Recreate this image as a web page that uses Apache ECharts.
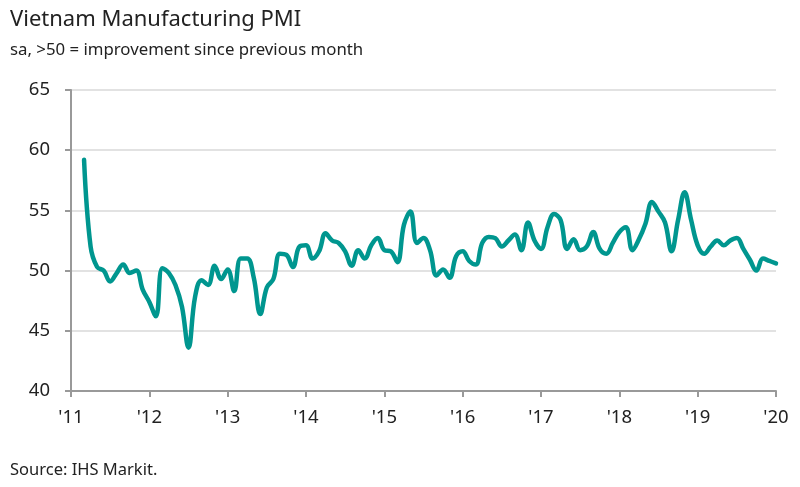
<!DOCTYPE html>
<html>
<head>
<meta charset="utf-8">
<script src="https://cdn.jsdelivr.net/npm/echarts@6/dist/echarts.min.js"></script>
<style>
html,body{margin:0;padding:0;background:#fff;}
#chart{width:800px;height:487px;}
</style>
</head>
<body>
<div id="chart"></div>
<script>
// Month index 0 = Jan 2011; first observation is Mar 2011 (index 2)
var startIndex = 2;
var pmi = [
  59.2, 52.0, 50.3, 50.0, 49.1, 49.8, 50.5, 49.8, 50.0, 48.4,      // Mar-Dec 2011
  47.4, 46.2, 50.2, 49.8, 48.8, 47.0, 43.6, 47.8, 49.2, 48.8, 50.4, 49.3, // 2012
  50.1, 48.3, 51.0, 51.0, 49.4, 46.4, 48.6, 49.3, 51.4, 51.3, 50.3, 52.0, // 2013
  52.1, 51.0, 51.6, 53.1, 52.5, 52.3, 51.6, 50.4, 51.7, 51.0, 52.1, 52.7, // 2014
  51.7, 51.6, 50.7, 53.8, 54.9, 52.3, 52.7, 51.7, 49.6, 50.1, 49.4, 51.2, // 2015
  51.6, 50.8, 50.5, 52.3, 52.8, 52.7, 52.0, 52.5, 53.0, 51.7, 54.0, 52.5, // 2016
  51.8, 53.6, 54.7, 54.2, 51.8, 52.6, 51.7, 52.0, 53.2, 51.8, 51.4, 52.3, // 2017
  53.2, 53.6, 51.7, 52.6, 53.9, 55.7, 54.9, 54.0, 51.6, 54.2, 56.5, 54.2, // 2018
  52.1, 51.4, 52.0, 52.5, 52.1, 52.5, 52.7, 51.8, 50.9, 50.0, 51.0, 50.8, // 2019
  50.6                                                                    // Jan 2020
];
var tickLabels = ["'11", "'12", "'13", "'14", "'15", "'16", "'17", "'18", "'19", "'20"];
var yTicks = [40, 45, 50, 55, 60, 65];
var titleText = 'Vietnam Manufacturing PMI';
var subtitleText = 'sa, >50 = improvement since previous month';
var sourceText = 'Source: IHS Markit.';

var seriesData = pmi.map(function (v, k) { return [k + startIndex, v]; });
var font = 'Noto Sans';

var chart = echarts.init(document.getElementById('chart'), null, {renderer: 'canvas'});
chart.setOption({
  animation: false,
  backgroundColor: '#ffffff',
  textStyle: {fontFamily: font},
  title: [
    {text: titleText, left: 10, top: 9, padding: 0, textStyle: {fontFamily: font, fontSize: 22, fontWeight: 'normal', color: '#222'}},
    {text: subtitleText, left: 10, top: 42, padding: 0, textStyle: {fontFamily: font, fontSize: 16.8, fontWeight: 'normal', color: '#222'}},
    {text: sourceText, left: 10, top: 462, padding: 0, textStyle: {fontFamily: font, fontSize: 16.5, fontWeight: 'normal', color: '#222'}}
  ],
  grid: {left: 71, right: 24, top: 90, bottom: 96, containLabel: false},
  xAxis: {
    type: 'value',
    min: 0,
    max: (tickLabels.length - 1) * 12,
    interval: 12,
    axisLine: {show: true, lineStyle: {color: '#999999', width: 2}},
    axisTick: {show: true, length: 6, inside: false, lineStyle: {color: '#999999', width: 2}},
    splitLine: {show: false},
    axisLabel: {
      margin: 17,
      fontSize: 18.5,
      color: '#222',
      fontFamily: font,
      formatter: function (v) { return tickLabels[Math.round(v / 12)] || ''; }
    }
  },
  yAxis: {
    type: 'value',
    min: yTicks[0],
    max: yTicks[yTicks.length - 1],
    interval: 5,
    axisLine: {show: true, lineStyle: {color: '#999999', width: 2}},
    axisTick: {show: true, length: 6, inside: false, lineStyle: {color: '#999999', width: 2}},
    splitLine: {show: true, lineStyle: {color: '#d9d9d9', width: 1.5}},
    axisLabel: {margin: 21, fontSize: 18.5, color: '#222', fontFamily: font}
  },
  series: [{
    type: 'line',
    data: seriesData,
    smooth: 0.4,
    showSymbol: false,
    symbol: 'none',
    lineStyle: {color: '#00968f', width: 4.5, cap: 'round', join: 'round'},
    z: 5
  }]
});
</script>
</body>
</html>
